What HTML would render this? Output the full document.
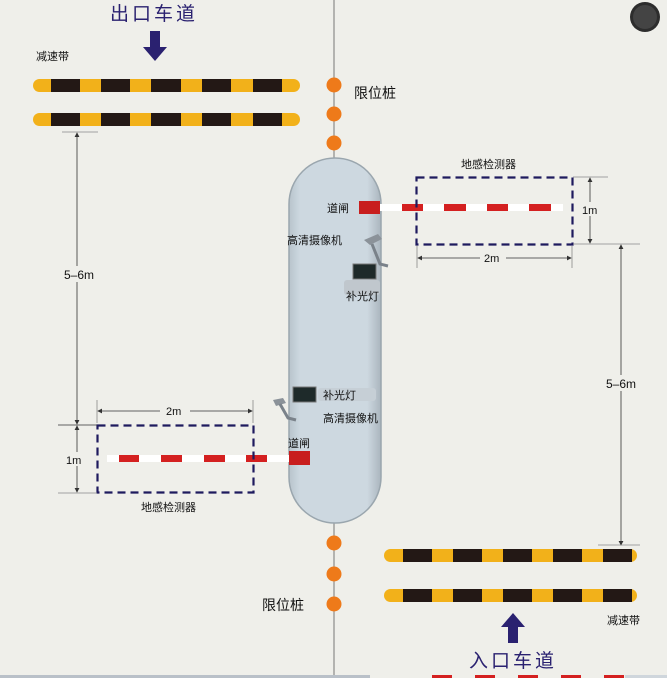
<!DOCTYPE html>
<html><head><meta charset="utf-8"><style>
html,body{margin:0;padding:0;background:#efefea;}
svg{display:block}
text{font-family:"Liberation Sans","Noto Sans CJK SC",sans-serif;fill:#111;}
</style></head><body>
<svg width="667" height="678" viewBox="0 0 667 678" xmlns="http://www.w3.org/2000/svg">
<defs>
<marker id="ar" markerWidth="6" markerHeight="6" refX="5" refY="3" orient="auto"><path d="M0,0 L6,3 L0,6 z" fill="#333"/></marker>
<marker id="al" markerWidth="6" markerHeight="6" refX="1" refY="3" orient="auto"><path d="M6,0 L0,3 L6,6 z" fill="#333"/></marker>
<linearGradient id="isl" x1="0" x2="1"><stop offset="0" stop-color="#b8c4cc"/><stop offset="0.12" stop-color="#cdd8e0"/><stop offset="0.85" stop-color="#cdd8e0"/><stop offset="1" stop-color="#aab5be"/></linearGradient>
</defs>
<rect width="667" height="678" fill="#efefea"/>
<line x1="334" y1="0" x2="334" y2="678" stroke="#777" stroke-width="1"/>
<text x="110" y="20" font-size="19" style="fill:#2a2170" letter-spacing="3">出口车道</text>
<path d="M150,31 h10 v16 h7 l-12,14 l-12,-14 h7 z" fill="#2a2170"/>
<text x="36" y="60" font-size="11">减速带</text>
<g id="b1">
<rect x="33" y="79" width="267" height="13" rx="6.5" fill="#f2b11a"/>
<rect x="51" y="79" width="29" height="13" fill="#231815"/><rect x="101" y="79" width="29" height="13" fill="#231815"/><rect x="151" y="79" width="30" height="13" fill="#231815"/><rect x="202" y="79" width="29" height="13" fill="#231815"/><rect x="253" y="79" width="29" height="13" fill="#231815"/>
</g>
<use href="#b1" y="34"/>
<g id="b2">
<rect x="384" y="549" width="253" height="13" rx="6.5" fill="#f2b11a"/>
<rect x="403" y="549" width="29" height="13" fill="#231815"/><rect x="453" y="549" width="29" height="13" fill="#231815"/><rect x="503" y="549" width="29" height="13" fill="#231815"/><rect x="553" y="549" width="29" height="13" fill="#231815"/><rect x="603" y="549" width="29" height="13" fill="#231815"/>
</g>
<use href="#b2" y="40"/>
<text x="607" y="624" font-size="11">减速带</text>
<path d="M508,643 h10 v-16 h7 l-12,-14 l-12,14 h7 z" fill="#2a2170"/>
<text x="469" y="667" font-size="19" style="fill:#2a2170" letter-spacing="3">入口车道</text>
<g fill="#ee7a1a"><circle cx="334" cy="85" r="7.5"/><circle cx="334" cy="114" r="7.5"/><circle cx="334" cy="143" r="7.5"/><circle cx="334" cy="543" r="7.5"/><circle cx="334" cy="574" r="7.5"/><circle cx="334" cy="604" r="7.5"/></g>
<text x="354" y="98" font-size="14">限位桩</text>
<text x="262" y="610" font-size="14">限位桩</text>
<path d="M289,204 A46,46 0 0 1 381,204 V477 A46,46 0 0 1 289,477 Z" fill="url(#isl)" stroke="#9aa6ae" stroke-width="1.5"/>
<rect x="380" y="204" width="183" height="7" fill="#fff"/>
<g fill="#d42020"><rect x="402" y="204" width="21" height="7"/><rect x="444" y="204" width="22" height="7"/><rect x="487" y="204" width="21" height="7"/><rect x="529" y="204" width="22" height="7"/></g>
<rect x="359" y="201" width="21" height="13" fill="#c81e1e"/>
<text x="327" y="212" font-size="11">道闸</text>
<rect x="416.5" y="177.5" width="156" height="67" fill="none" stroke="#1e1a5e" stroke-width="2.2" stroke-dasharray="8,5"/>
<text x="461" y="168" font-size="11">地感检测器</text>
<line x1="573" y1="177" x2="608" y2="177" stroke="#888" stroke-width="0.8"/>
<line x1="573" y1="244" x2="640" y2="244" stroke="#888" stroke-width="0.8"/>
<line x1="590" y1="178" x2="590" y2="243" stroke="#333" stroke-width="0.8" marker-start="url(#al)" marker-end="url(#ar)"/>
<rect x="582" y="202" width="20" height="14" fill="#efefea"/>
<text x="582" y="214" font-size="11">1m</text>
<line x1="417" y1="246" x2="417" y2="268" stroke="#888" stroke-width="0.8"/>
<line x1="572" y1="246" x2="572" y2="268" stroke="#888" stroke-width="0.8"/>
<line x1="418" y1="258" x2="571" y2="258" stroke="#333" stroke-width="0.8" marker-start="url(#al)" marker-end="url(#ar)"/>
<rect x="480" y="251" width="26" height="14" fill="#efefea"/>
<text x="484" y="262" font-size="11">2m</text>
<line x1="621" y1="245" x2="621" y2="545" stroke="#333" stroke-width="0.8" marker-start="url(#al)" marker-end="url(#ar)"/>
<line x1="598" y1="545" x2="640" y2="545" stroke="#888" stroke-width="0.8"/>
<rect x="605" y="375" width="34" height="16" fill="#efefea"/>
<text x="606" y="388" font-size="12">5–6m</text>
<text x="287" y="244" font-size="11">高清摄像机</text>
<path d="M364,240 l14,-6 l4,5 l-12,6 z" fill="#8b9299"/><path d="M372,244 l8,20 l8,2" stroke="#7a828a" stroke-width="3" fill="none"/>
<rect x="344" y="280" width="36" height="15" rx="3" fill="#c0c7cd"/>
<rect x="353" y="264" width="23" height="15" fill="#1e2a2a" stroke="#777"/>
<text x="346" y="300" font-size="11">补光灯</text>
<rect x="293" y="387" width="23" height="15" fill="#1e2a2a" stroke="#777"/>
<rect x="318" y="388" width="58" height="13" rx="3" fill="#c6cfd6"/>
<text x="323" y="399" font-size="11">补光灯</text>
<text x="323" y="422" font-size="11">高清摄像机</text>
<path d="M273,400 l10,-2 l3,5 l-10,3 z" fill="#8b9299"/><path d="M280,404 l8,14 l8,2" stroke="#7a828a" stroke-width="3" fill="none"/>
<rect x="107" y="455" width="182" height="7" fill="#fff"/>
<g fill="#d42020"><rect x="119" y="455" width="20" height="7"/><rect x="161" y="455" width="21" height="7"/><rect x="204" y="455" width="21" height="7"/><rect x="246" y="455" width="21" height="7"/></g>
<rect x="289" y="451" width="21" height="14" fill="#c81e1e"/>
<text x="288" y="447" font-size="11">道闸</text>
<rect x="97.5" y="425.5" width="156" height="67" fill="none" stroke="#1e1a5e" stroke-width="2.2" stroke-dasharray="8,5"/>
<text x="141" y="511" font-size="11">地感检测器</text>
<line x1="97" y1="400" x2="97" y2="423" stroke="#888" stroke-width="0.8"/>
<line x1="253" y1="400" x2="253" y2="423" stroke="#888" stroke-width="0.8"/>
<line x1="98" y1="411" x2="252" y2="411" stroke="#333" stroke-width="0.8" marker-start="url(#al)" marker-end="url(#ar)"/>
<rect x="160" y="404" width="30" height="14" fill="#efefea"/>
<text x="166" y="415" font-size="11">2m</text>
<line x1="58" y1="425" x2="97" y2="425" stroke="#333" stroke-width="0.8"/>
<line x1="58" y1="493" x2="97" y2="493" stroke="#888" stroke-width="0.8"/>
<line x1="77" y1="426" x2="77" y2="492" stroke="#333" stroke-width="0.8" marker-start="url(#al)" marker-end="url(#ar)"/>
<rect x="63" y="452" width="30" height="14" fill="#efefea"/>
<text x="66" y="464" font-size="11">1m</text>
<line x1="62" y1="132" x2="98" y2="132" stroke="#888" stroke-width="0.8"/>
<line x1="77" y1="133" x2="77" y2="424" stroke="#333" stroke-width="0.8" marker-start="url(#al)" marker-end="url(#ar)"/>
<rect x="62" y="266" width="36" height="16" fill="#efefea"/>
<text x="64" y="279" font-size="12">5–6m</text>
<circle cx="645" cy="17" r="15" fill="#2d2d2d"/><circle cx="645" cy="17" r="12" fill="#444"/>
<rect x="0" y="675" width="370" height="3" fill="#b9c0c8"/>
<g fill="#d42020"><rect x="432" y="675" width="20" height="3"/><rect x="475" y="675" width="20" height="3"/><rect x="518" y="675" width="20" height="3"/><rect x="561" y="675" width="20" height="3"/><rect x="604" y="675" width="20" height="3"/></g>
<rect x="625" y="675" width="42" height="3" fill="#cfd6dc"/>
</svg>
</body></html>
